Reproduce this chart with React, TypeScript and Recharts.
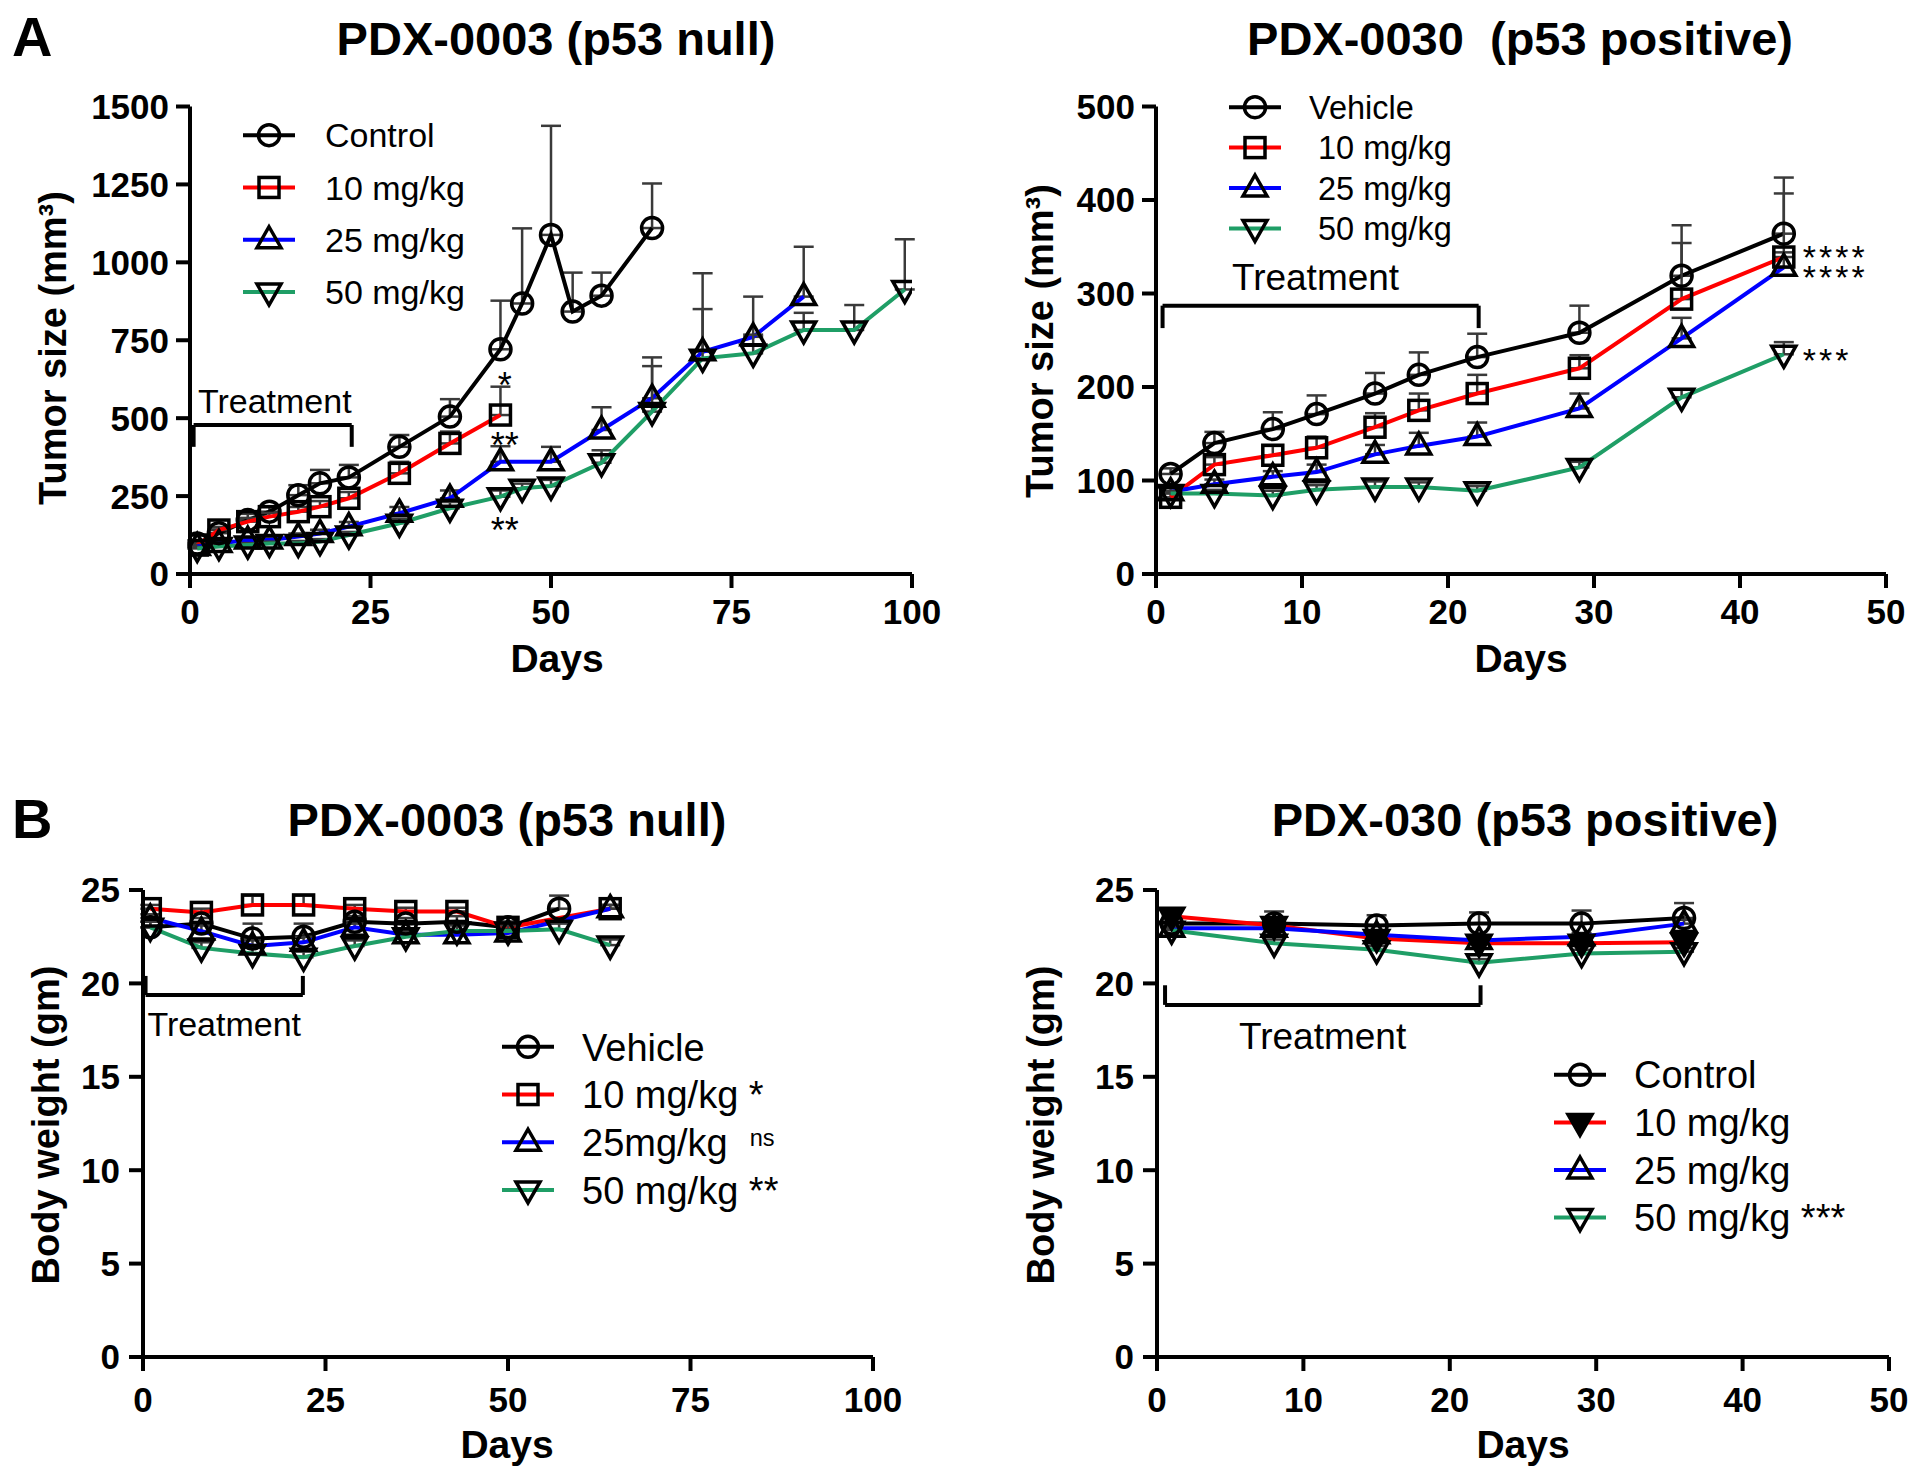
import React from "react";
import {
  LineChart,
  Line,
  XAxis,
  YAxis,
  ErrorBar,
  ReferenceLine,
  ReferenceDot,
  Legend,
} from "recharts";

const FONT = '"Liberation Sans", Arial, Helvetica, sans-serif';
const BLACK = "#000000";
const RED = "#ff0000";
const BLUE = "#0000ff";
const GREEN = "#1f9e66";
const ERR = "#3a3a3a";

// ---- A left: PDX-0003 (p53 null), tumor size (mm3)
const a1CtrlDays = [1, 4, 8, 11, 15, 18, 22, 29, 36, 43, 46, 50, 53, 57, 64];
const a1Control = [98, 131, 173, 200, 253, 291, 310, 408, 505, 721, 868, 1088, 842, 893, 1110];
const a1ControlErr = [10, 12, 20, 15, 32, 43, 40, 38, 56, 156, 241, 350, 125, 74, 143];
const a1Days10 = [1, 4, 8, 11, 15, 18, 22, 29, 36, 43];
const a1Dose10 = [93, 141, 168, 184, 200, 216, 243, 323, 419, 510];
const a1Dose10Err = [8, 10, 12, 12, 15, 18, 20, 37, 38, 91];
const a1Days25 = [1, 4, 8, 11, 15, 18, 22, 29, 36, 43, 50, 57, 64, 71, 78, 85];
const a1Dose25 = [88, 98, 109, 109, 120, 130, 152, 195, 243, 360, 360, 462, 564, 713, 761, 890];
const a1Dose25Err = [5, 6, 8, 8, 10, 12, 15, 20, 25, 50, 48, 73, 131, 252, 129, 160];
const a1Days50 = [1, 4, 8, 11, 15, 18, 22, 29, 36, 43, 46, 50, 57, 64, 71, 78, 85, 92, 99];
const a1Dose50 = [82, 88, 93, 98, 98, 104, 125, 163, 211, 248, 275, 282, 357, 521, 692, 708, 783, 783, 913];
const a1Dose50Err = [5, 5, 6, 6, 8, 8, 10, 15, 20, 20, 15, 20, 40, 146, 158, 60, 55, 80, 161];
const a1XTicks = [0, 25, 50, 75, 100];
const a1YTicks = [0, 250, 500, 750, 1000, 1250, 1500];
const a1Labels = ["Control", "10 mg/kg", "25 mg/kg", "50 mg/kg"];

// ---- A right: PDX-0030 (p53 positive), tumor size (mm3)
const a2Days = [1, 4, 8, 11, 15, 18, 22, 29, 36, 43];
const a2Vehicle = [107, 140, 155, 171, 193, 213, 232, 258, 319, 364];
const a2VehicleErr = [6, 12, 18, 20, 22, 24, 25, 29, 54, 60];
const a2Dose10 = [82, 117, 127, 135, 157, 175, 193, 220, 294, 339];
const a2Dose10Err = [5, 8, 10, 12, 15, 18, 20, 14, 60, 68];
const a2Dose25 = [88, 96, 104, 109, 128, 137, 147, 177, 252, 328];
const a2Dose25Err = [4, 5, 6, 8, 10, 14, 15, 16, 22, 16];
const a2Dose50 = [86, 86, 84, 90, 93, 93, 89, 114, 189, 235];
const a2Dose50Err = [3, 4, 5, 5, 6, 5, 5, 6, 8, 13];
const a2XTicks = [0, 10, 20, 30, 40, 50];
const a2YTicks = [0, 100, 200, 300, 400, 500];
const a2Labels = ["Vehicle", " 10 mg/kg", " 25 mg/kg", " 50 mg/kg"];

// ---- B left: PDX-0003 (p53 null), body weight (gm)
const b1VehDays = [1, 8, 15, 22, 29, 36, 43, 50, 57];
const b1Vehicle = [23.0, 23.2, 22.4, 22.5, 23.3, 23.2, 23.3, 23.0, 24.0];
const b1VehicleErr = [0.3, 0.3, 0.8, 0.7, 0.3, 0.3, 0.3, 0.3, 0.7];
const b1DoseDays = [1, 8, 15, 22, 29, 36, 43, 50, 64];
const b1Dose10 = [24.0, 23.8, 24.2, 24.2, 24.0, 23.85, 23.85, 23.0, 24.0];
const b1Dose10Err = [0.2, 0.2, 0.5, 0.5, 0.2, 0.2, 0.2, 0.3, 0.2];
const b1Dose25 = [23.5, 22.8, 22.0, 22.2, 23.0, 22.6, 22.6, 22.7, 24.0];
const b1Dose25Err = [0.2, 0.3, 0.3, 0.3, 0.2, 0.2, 0.2, 0.2, 0.2];
const b1Days50 = [1, 8, 15, 22, 29, 36, 43, 50, 57, 64];
const b1Dose50 = [23.0, 21.9, 21.6, 21.4, 22.0, 22.5, 22.8, 22.8, 22.9, 22.05];
const b1Dose50Err = [0.3, 0.3, 0.3, 0.3, 0.3, 0.3, 0.3, 0.3, 0.3, 0.3];
const b1XTicks = [0, 25, 50, 75, 100];
const b1Labels = ["Vehicle", "10 mg/kg", "25mg/kg", "50 mg/kg"];
const b1Marks = [" ", " *", " ns", " **"];

// ---- B right: PDX-030 (p53 positive), body weight (gm)
const b2Days = [1, 8, 15, 22, 29, 36];
const b2Control = [23.2, 23.2, 23.1, 23.2, 23.2, 23.5];
const b2ControlErr = [0.3, 0.65, 0.55, 0.6, 0.7, 0.8];
const b2Dose10 = [23.6, 23.1, 22.4, 22.15, 22.15, 22.2];
const b2Dose10Err = [0.3, 0.3, 0.3, 0.3, 0.3, 0.3];
const b2Dose25 = [22.95, 22.95, 22.6, 22.3, 22.5, 23.2];
const b2Dose25Err = [0.2, 0.2, 0.2, 0.2, 0.2, 0.2];
const b2Dose50 = [22.85, 22.15, 21.8, 21.1, 21.6, 21.7];
const b2Dose50Err = [0.2, 0.2, 0.2, 0.2, 0.2, 0.2];
const b2XTicks = [0, 10, 20, 30, 40, 50];
const b2Labels = ["Control", "10 mg/kg", "25 mg/kg", "50 mg/kg"];
const b2Marks = ["", "", "", " ***"];

const bYTicks = [0, 5, 10, 15, 20, 25];

type Shape = "circle" | "square" | "up" | "down";

function rows(days: number[], vals: number[], errs?: number[]) {
  return days.map((d, i) => ({ d, v: vals[i], e: errs && errs[i] ? [0, errs[i]] : null }));
}

function Mark({ cx, cy, shape, filled }: { cx: number; cy: number; shape: Shape; filled?: boolean }) {
  if (cx == null || cy == null) return null;
  const st = { fill: filled ? "#000" : "none", stroke: "#000", strokeWidth: 3.5 };
  if (shape === "circle") return <circle cx={cx} cy={cy} r={10.5} {...st} />;
  if (shape === "square") return <rect x={cx - 10} y={cy - 10} width={20} height={20} {...st} />;
  if (shape === "up") return <path d={`M${cx},${cy - 13}L${cx + 12},${cy + 8}L${cx - 12},${cy + 8}Z`} {...st} />;
  return <path d={`M${cx},${cy + 13}L${cx + 12},${cy - 8}L${cx - 12},${cy - 8}Z`} {...st} />;
}

interface Series {
  color: string;
  shape: Shape;
  filled?: boolean;
  data: { d: number; v: number; e: number[] | null }[];
}

interface Note {
  x: number;
  y: number;
  lines: string[];
  size: number;
  anchor?: "start" | "middle";
  spacing?: number;
  lift?: number;
  gap?: number;
}

interface PanelCfg {
  left: number;
  top: number;
  w: number;
  h: number;
  margin: { top: number; right: number; bottom: number; left: number };
  yW: number;
  xDomain: [number, number];
  yDomain: [number, number];
  xTicks: number[];
  yTicks: number[];
  xTickMargin: number;
  yTickMargin: number;
  series: Series[];
  bracket: { x1: number; x2: number; y: number; yEnd: number };
  notes: Note[];
  legend: { left: number; top: number; rowH: number; font: number; textX: number; labels: string[]; marks?: string[] };
}

const axisStyle = { stroke: "#000", strokeWidth: 4 };
const tickStyle = { fill: "#000", fontSize: 35, fontWeight: 700, fontFamily: FONT };

function LegendBox({ cfg }: { cfg: PanelCfg }) {
  const lg = cfg.legend;
  const h = lg.rowH * cfg.series.length;
  return (
    <svg width={440} height={h} style={{ overflow: "visible" }}>
      {cfg.series.map((s, i) => {
        const y = lg.rowH / 2 + i * lg.rowH;
        const mark = lg.marks ? lg.marks[i] : "";
        return (
          <g key={i}>
            <line x1={0} x2={52} y1={y} y2={y} stroke={s.color} strokeWidth={4} />
            <Mark cx={26} cy={y} shape={s.shape} filled={s.filled} />
            <text
              x={lg.textX}
              y={y + lg.font * 0.36}
              fontSize={lg.font}
              fontFamily={FONT}
              fill="#000"
              style={{ whiteSpace: "pre" }}
            >
              {lg.labels[i]}
              {mark === " ns" ? (
                <tspan fontSize={lg.font * 0.62} dx={22} dy={-lg.font * 0.25}>ns</tspan>
              ) : (
                mark
              )}
            </text>
          </g>
        );
      })}
    </svg>
  );
}

function Panel({ cfg }: { cfg: PanelCfg }) {
  const b = cfg.bracket;
  return (
    <div style={{ position: "absolute", left: cfg.left, top: cfg.top }}>
      <LineChart width={cfg.w} height={cfg.h} margin={cfg.margin}>
        <XAxis
          type="number"
          dataKey="d"
          domain={cfg.xDomain}
          ticks={cfg.xTicks}
          allowDataOverflow
          height={80}
          tickSize={14}
          tickMargin={cfg.xTickMargin}
          axisLine={axisStyle}
          tickLine={axisStyle}
          tick={tickStyle}
        />
        <YAxis
          type="number"
          domain={cfg.yDomain}
          ticks={cfg.yTicks}
          allowDataOverflow
          width={cfg.yW}
          tickSize={14}
          tickMargin={cfg.yTickMargin}
          axisLine={axisStyle}
          tickLine={axisStyle}
          tick={tickStyle}
        />
        <ReferenceLine segment={[{ x: b.x1, y: b.y }, { x: b.x2, y: b.y }]} stroke="#000" strokeWidth={4} ifOverflow="visible" />
        <ReferenceLine segment={[{ x: b.x1, y: b.y }, { x: b.x1, y: b.yEnd }]} stroke="#000" strokeWidth={4} ifOverflow="visible" />
        <ReferenceLine segment={[{ x: b.x2, y: b.y }, { x: b.x2, y: b.yEnd }]} stroke="#000" strokeWidth={4} ifOverflow="visible" />
        {cfg.series.map((s, i) => (
          <Line
            key={i}
            data={s.data}
            dataKey="v"
            type="linear"
            stroke={s.color}
            strokeWidth={4}
            activeDot={false}
            isAnimationActive={false}
            dot={(p: any) => <Mark key={`m${i}-${p.index}`} cx={p.cx} cy={p.cy} shape={s.shape} filled={s.filled} />}
          >
            <ErrorBar dataKey="e" direction="y" width={10} stroke={ERR} strokeWidth={2.5} />
          </Line>
        ))}
        {cfg.notes.map((n, i) => (
          <ReferenceDot
            key={`n${i}`}
            x={n.x}
            y={n.y}
            r={0}
            ifOverflow="visible"
            shape={(p: any) => (
              <text
                x={p.cx}
                y={p.cy + n.size * (n.lift ?? 0.36)}
                textAnchor={n.anchor ?? "start"}
                fontSize={n.size}
                fontFamily={FONT}
                letterSpacing={n.spacing ?? 0}
                fill="#000"
              >
                {n.lines.map((t, k) => (
                  <tspan key={k} x={p.cx} dy={k === 0 ? 0 : n.gap ?? n.size}>
                    {t}
                  </tspan>
                ))}
              </text>
            )}
          />
        ))}
        <Legend
          layout="horizontal"
          verticalAlign="middle"
          align="center"
          wrapperStyle={{ left: cfg.legend.left, top: cfg.legend.top, width: 440 }}
          content={() => <LegendBox cfg={cfg} />}
        />
      </LineChart>
    </div>
  );
}

const panelA1: PanelCfg = {
  left: 0,
  top: 0,
  w: 960,
  h: 700,
  margin: { top: 106.5, right: 48, bottom: 46, left: 80 },
  yW: 110,
  xDomain: [0, 100],
  yDomain: [0, 1500],
  xTicks: a1XTicks,
  yTicks: a1YTicks,
  xTickMargin: 11,
  yTickMargin: 7,
  series: [
    { color: BLACK, shape: "circle", data: rows(a1CtrlDays, a1Control, a1ControlErr) },
    { color: RED, shape: "square", data: rows(a1Days10, a1Dose10, a1Dose10Err) },
    { color: BLUE, shape: "up", data: rows(a1Days25, a1Dose25, a1Dose25Err) },
    { color: GREEN, shape: "down", data: rows(a1Days50, a1Dose50, a1Dose50Err) },
  ],
  bracket: { x1: 0.5, x2: 22.4, y: 478, yEnd: 408 },
  notes: [
    { x: 1.1, y: 517, lines: ["Treatment"], size: 34, lift: 0 },
    { x: 43.6, y: 633, lines: ["*"], size: 36, anchor: "middle", lift: 0.58 },
    { x: 43.6, y: 440, lines: ["**"], size: 36, anchor: "middle", lift: 0.58 },
    { x: 43.6, y: 168, lines: ["**"], size: 36, anchor: "middle", lift: 0.58 },
  ],
  legend: { left: 243, top: 109, rowH: 52.3, font: 34, textX: 82, labels: a1Labels },
};

const panelA2: PanelCfg = {
  left: 960,
  top: 0,
  w: 960,
  h: 700,
  margin: { top: 106.5, right: 34, bottom: 46, left: 86 },
  yW: 110,
  xDomain: [0, 50],
  yDomain: [0, 500],
  xTicks: a2XTicks,
  yTicks: a2YTicks,
  xTickMargin: 11,
  yTickMargin: 7,
  series: [
    { color: BLACK, shape: "circle", data: rows(a2Days, a2Vehicle, a2VehicleErr) },
    { color: RED, shape: "square", data: rows(a2Days, a2Dose10, a2Dose10Err) },
    { color: BLUE, shape: "up", data: rows(a2Days, a2Dose25, a2Dose25Err) },
    { color: GREEN, shape: "down", data: rows(a2Days, a2Dose50, a2Dose50Err) },
  ],
  bracket: { x1: 0.45, x2: 22.1, y: 287, yEnd: 263 },
  notes: [
    { x: 5.2, y: 304, lines: ["Treatment"], size: 37, lift: 0 },
    { x: 44.3, y: 347, lines: ["****", "****"], size: 34, spacing: 3, lift: 0.58, gap: 20 },
    { x: 44.3, y: 237, lines: ["***"], size: 34, spacing: 3, lift: 0.58 },
  ],
  legend: { left: 269, top: 87, rowH: 40.4, font: 32.5, textX: 80, labels: a2Labels },
};

const panelB1: PanelCfg = {
  left: 0,
  top: 740,
  w: 960,
  h: 737,
  margin: { top: 150, right: 87, bottom: 40, left: 43 },
  yW: 100,
  xDomain: [0, 100],
  yDomain: [0, 25],
  xTicks: b1XTicks,
  yTicks: bYTicks,
  xTickMargin: 16,
  yTickMargin: 9,
  series: [
    { color: BLACK, shape: "circle", data: rows(b1VehDays, b1Vehicle, b1VehicleErr) },
    { color: RED, shape: "square", data: rows(b1DoseDays, b1Dose10, b1Dose10Err) },
    { color: BLUE, shape: "up", data: rows(b1DoseDays, b1Dose25, b1Dose25Err) },
    { color: GREEN, shape: "down", data: rows(b1Days50, b1Dose50, b1Dose50Err) },
  ],
  bracket: { x1: 0.35, x2: 21.9, y: 19.38, yEnd: 20.4 },
  notes: [{ x: 0.6, y: 17.2, lines: ["Treatment"], size: 34, lift: 0 }],
  legend: { left: 502, top: 283, rowH: 47.7, font: 38, textX: 80, labels: b1Labels, marks: b1Marks },
};

const panelB2: PanelCfg = {
  left: 960,
  top: 740,
  w: 960,
  h: 737,
  margin: { top: 150, right: 31, bottom: 40, left: 97 },
  yW: 100,
  xDomain: [0, 50],
  yDomain: [0, 25],
  xTicks: b2XTicks,
  yTicks: bYTicks,
  xTickMargin: 16,
  yTickMargin: 9,
  series: [
    { color: BLACK, shape: "circle", data: rows(b2Days, b2Control, b2ControlErr) },
    { color: RED, shape: "down", filled: true, data: rows(b2Days, b2Dose10, b2Dose10Err) },
    { color: BLUE, shape: "up", data: rows(b2Days, b2Dose25, b2Dose25Err) },
    { color: GREEN, shape: "down", data: rows(b2Days, b2Dose50, b2Dose50Err) },
  ],
  bracket: { x1: 0.55, x2: 22.1, y: 18.85, yEnd: 19.9 },
  notes: [{ x: 5.6, y: 16.5, lines: ["Treatment"], size: 37, lift: 0 }],
  legend: { left: 594, top: 311, rowH: 47.6, font: 38, textX: 80, labels: b2Labels, marks: b2Marks },
};

function Titles() {
  const bold = { fontFamily: FONT, fontWeight: 700, fill: "#000" } as const;
  const vt = (x: number, y: number, t: string) => (
    <text x={x} y={y} transform={`rotate(-90 ${x} ${y})`} textAnchor="middle" fontSize={38} {...bold}>
      {t}
    </text>
  );
  return (
    <svg
      width={1920}
      height={1477}
      style={{ position: "absolute", left: 0, top: 0, pointerEvents: "none" }}
    >
      <text x={12} y={56} fontSize={56} {...bold}>A</text>
      <text x={12} y={838} fontSize={56} {...bold}>B</text>
      <text x={556} y={55} textAnchor="middle" fontSize={47} {...bold}>PDX-0003 (p53 null)</text>
      <text x={1520} y={55} textAnchor="middle" fontSize={47} {...bold} style={{ whiteSpace: "pre" }}>
        PDX-0030  (p53 positive)
      </text>
      <text x={507} y={836} textAnchor="middle" fontSize={47} {...bold}>PDX-0003 (p53 null)</text>
      <text x={1525} y={836} textAnchor="middle" fontSize={47} {...bold}>PDX-030 (p53 positive)</text>
      {vt(66, 348, "Tumor size (mm³)")}
      {vt(1053, 341, "Tumor size (mm³)")}
      {vt(59, 1125, "Body weight (gm)")}
      {vt(1054, 1125, "Body weight (gm)")}
      <text x={557} y={672} textAnchor="middle" fontSize={39} {...bold}>Days</text>
      <text x={1521} y={672} textAnchor="middle" fontSize={39} {...bold}>Days</text>
      <text x={507} y={1458} textAnchor="middle" fontSize={39} {...bold}>Days</text>
      <text x={1523} y={1458} textAnchor="middle" fontSize={39} {...bold}>Days</text>
    </svg>
  );
}

export default function App() {
  return (
    <div style={{ position: "relative", width: 1920, height: 1477, background: "#fff", fontFamily: FONT }}>
      <style>{"body{margin:0;background:#fff}"}</style>
      <Panel cfg={panelA1} />
      <Panel cfg={panelA2} />
      <Panel cfg={panelB1} />
      <Panel cfg={panelB2} />
      <Titles />
    </div>
  );
}
